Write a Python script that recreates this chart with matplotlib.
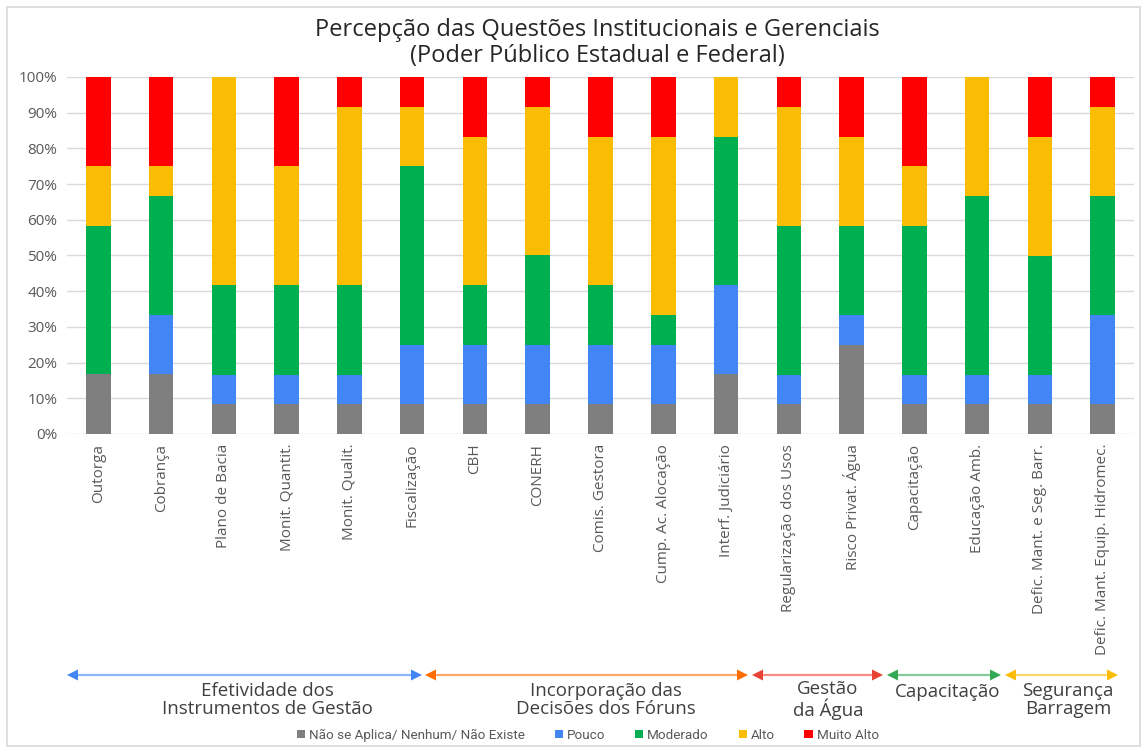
import numpy as np
import matplotlib
matplotlib.use('Agg')
import matplotlib.pyplot as plt
from matplotlib.patches import Rectangle, Polygon
from matplotlib.lines import Line2D

categorias = ['Outorga', 'Cobrança', 'Plano de Bacia', 'Monit. Quantit.', 'Monit. Qualit.',
              'Fiscalização', 'CBH', 'CONERH', 'Comis. Gestora', 'Cump. Ac. Alocação',
              'Interf. Judiciário', 'Regularização dos Usos', 'Risco Privat. Água',
              'Capacitação', 'Educação Amb.', 'Defic. Mant. e Seg. Barr.',
              'Defic. Mant. Equip. Hidromec.']

nao_aplica = [16.7, 16.7, 8.3, 8.3, 8.3, 8.3, 8.3, 8.3, 8.3, 8.3, 16.7, 8.3, 25.0, 8.3, 8.3, 8.3, 8.3]
pouco      = [0.0, 16.7, 8.3, 8.3, 8.3, 16.7, 16.7, 16.7, 16.7, 16.7, 25.0, 8.3, 8.3, 8.3, 8.3, 8.3, 25.0]
moderado   = [41.7, 33.3, 25.0, 25.0, 25.0, 50.0, 16.7, 25.0, 16.7, 8.3, 41.7, 41.7, 25.0, 41.7, 50.0, 33.3, 33.3]
alto       = [16.7, 8.3, 58.3, 33.3, 50.0, 16.7, 41.7, 41.7, 41.7, 50.0, 16.7, 33.3, 25.0, 16.7, 33.3, 33.3, 25.0]
muito_alto = [25.0, 25.0, 0.0, 25.0, 8.3, 8.3, 16.7, 8.3, 16.7, 16.7, 0.0, 8.3, 16.7, 25.0, 0.0, 16.7, 8.3]

series = ['Não se Aplica/ Nenhum/ Não Existe', 'Pouco', 'Moderado', 'Alto', 'Muito Alto']
cores = ['#7F7F7F', '#4285F4', '#00B050', '#FBBC04', '#FF0000']

grupos = ['Efetividade dos\nInstrumentos de Gestão', 'Incorporação das\nDecisões dos Fóruns',
          'Gestão\nda Água', 'Capacitação', 'Segurança\nBarragem']
grupo_cores = ['#4285F4', '#FF6D01', '#EA4335', '#34A853', '#FBBC04']
# posicoes (px) das setas e dos textos dos grupos
grupo_setas = [(67, 422), (425, 748), (752, 883), (887, 1001), (1005, 1118)]
grupo_texto_x = [267, 606, 828, 948, 1068]

fonte = 'Open Sans'
cinza = '#595959'
W, H = 1147, 749

fig = plt.figure(figsize=(W / 100, H / 100), dpi=100)
fig.patches.append(Rectangle((7 / W, 3 / H), 1133 / W, 739 / H, transform=fig.transFigure,
                             fill=False, edgecolor='#D9D9D9', linewidth=1.2))

ax = fig.add_axes([67 / W, 1 - 434 / H, (1134 - 67) / W, (434 - 77) / H])

dados = np.array([nao_aplica, pouco, moderado, alto, muito_alto])
dados = dados / dados.sum(axis=0) * 100
x = np.arange(len(categorias))
base = np.zeros(len(categorias))
barras = []
for vals, nome, cor in zip(dados, series, cores):
    b = ax.bar(x, vals, bottom=base, width=0.39, color=cor, label=nome, zorder=3)
    barras.append(b)
    base += vals

ax.set_xlim(-0.5, len(categorias) - 0.5)
ax.set_ylim(0, 100)
ax.set_yticks(np.arange(0, 101, 10))
ax.set_yticklabels([f'{v}%' for v in range(0, 101, 10)], fontsize=11, color=cinza, family=fonte)
ax.set_xticks(x)
ax.set_xticklabels(categorias, rotation=90, fontsize=11, color=cinza, family=fonte, va='top')
ax.tick_params(length=0, pad=7)
ax.tick_params(axis='y', pad=7)
ax.grid(axis='y', color='#D9D9D9', linewidth=1, zorder=0)
for s in ax.spines.values():
    s.set_visible(False)

fig.text(597 / W, 1 - 43 / H, 'Percepção das Questões Institucionais e Gerenciais\n(Poder Público Estadual e Federal)',
         ha='center', va='center', fontsize=17, color='#262626', family=fonte, linespacing=1.1)

# setas dos grupos
y_seta = 1 - 675 / H
cab_c, cab_l = 11, 5.5
for (x0, x1), nome, cor, xt in zip(grupo_setas, grupos, grupo_cores, grupo_texto_x):
    fig.lines.append(Line2D([(x0 + 5) / W, (x1 - 5) / W], [y_seta, y_seta], transform=fig.transFigure,
                            color=cor, alpha=0.6, linewidth=1.6))
    for ponta, sinal in [(x0, 1), (x1, -1)]:
        tri = [(ponta / W, y_seta), ((ponta + sinal * cab_c) / W, y_seta + cab_l / H),
               ((ponta + sinal * cab_c) / W, y_seta - cab_l / H)]
        fig.patches.append(Polygon(tri, closed=True, transform=fig.transFigure,
                                   facecolor=cor, edgecolor='none'))
    y_txt = 1 - 692 / H if '\n' not in nome else 1 - 700 / H
    fig.text(xt / W, y_txt, nome, ha='center', va='center', fontsize=13.5, color='#404040',
             family=fonte, linespacing=1.05)

fig.legend(handles=barras, labels=series, loc='center', bbox_to_anchor=(588 / W, 1 - 735 / H),
           ncol=5, frameon=False, handlelength=0.6, handleheight=0.6,
           handletextpad=0.3, columnspacing=2.2, labelcolor=cinza,
           prop={'family': 'Roboto', 'size': 9.7})

fig.savefig('out.png', dpi=100)
